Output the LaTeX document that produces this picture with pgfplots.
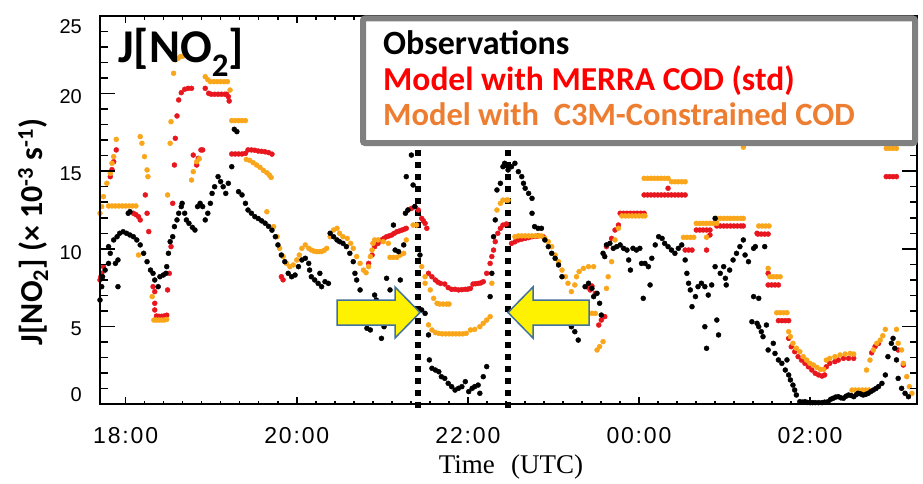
\documentclass[border=0pt]{standalone}
\usepackage{fontspec}
\setmainfont{Liberation Sans}
\newfontfamily\calfont{Carlito}
\newfontfamily\serfont{Liberation Serif}
\newfontfamily\tickfont[LetterSpace=8]{Liberation Sans}
\usepackage{pgfplots}
\pgfplotsset{compat=1.18}
\definecolor{obsred}{RGB}{232,22,30}
\definecolor{obsorange}{RGB}{250,166,26}
\definecolor{txtorange}{RGB}{237,125,49}
\definecolor{boxgray}{RGB}{128,128,128}
\definecolor{arrowblue}{RGB}{65,113,156}
\pgfplotsset{base/.style={at={(100pt,79pt)}, anchor=south west, scale only axis,
  width=817pt, height=388pt, xmin=17.70, xmax=27.25, ymin=0, ymax=25,
  axis line style={line width=1.5pt, black},
  every tick/.style={line width=1.5pt, black}}}
\begin{document}
\begin{tikzpicture}[x=1pt,y=1pt]
\useasboundingbox (0,0) rectangle (923,483);
\begin{axis}[base, clip=false,
  xtick={18,20,22,24,26}, xticklabels={18:00,20:00,22:00,00:00,02:00},
  minor x tick num=8,
  major tick length=7pt, minor tick length=3.5pt,
  xticklabel style={font=\tickfont\fontsize{23}{23}\selectfont, inner sep=0pt, yshift=-23pt},
  ytick=\empty,
]
% Model with MERRA COD (std)
\addplot[only marks, mark=*, mark size=2.5pt, color=obsred] coordinates {
(17.70,7.99)(17.71,8.20)(17.72,8.42)(17.74,8.85)(17.82,14.65)(17.84,15.10)(17.86,15.61)(17.89,16.37)
(18.09,12.29)(18.12,12.20)(18.15,12.07)(18.17,11.86)(18.23,13.47)(18.25,12.29)(18.27,11.11)
(18.32,7.56)(18.34,7.24)(18.34,6.49)(18.34,6.06)(18.36,5.67)(18.39,5.65)(18.42,5.65)(18.45,5.67)(18.48,5.72)
(18.49,7.35)(18.51,8.42)(18.53,10.14)(18.55,12.93)(18.57,15.40)(18.58,17.12)(18.60,18.56)(18.62,19.59)
(18.65,20.06)(18.69,20.28)(18.73,20.34)(18.77,20.34)(18.79,16.04)(18.83,15.40)(18.85,15.83)(18.88,16.37)(18.90,16.37)
(18.93,20.34)(18.97,20.02)(19.00,19.96)(19.04,19.96)(19.08,19.96)(19.12,19.96)(19.16,19.96)(19.18,19.96)(19.20,19.80)(19.21,19.52)
(19.24,16.11)(19.28,16.11)(19.32,16.11)(19.36,16.11)(19.40,16.15)(19.43,16.37)(19.47,16.37)(19.51,16.35)(19.55,16.30)
(19.59,16.28)(19.63,16.25)(19.67,16.20)(19.71,16.10)(19.82,8.20)(19.84,8.00)
(20.84,9.06)(20.88,9.60)(20.91,10.14)(20.95,10.35)(20.99,10.57)(21.02,10.68)(21.05,10.78)(21.08,10.83)(21.11,10.89)
(21.14,11.00)(21.17,11.10)(21.20,11.15)(21.23,11.21)(21.26,11.27)(21.28,11.32)(21.30,12.50)(21.34,12.60)(21.38,12.72)
(21.42,12.50)(21.46,11.96)(21.48,11.80)(21.50,11.64)(21.52,11.32)(21.54,8.42)(21.58,8.20)(21.62,7.99)(21.65,7.85)
(21.68,7.77)(21.73,7.73)(21.77,7.50)(21.81,7.39)(21.85,7.39)(21.89,7.35)(21.93,7.37)(21.97,7.39)(22.00,7.40)
(22.03,7.45)(22.06,7.73)(22.09,7.75)(22.12,7.77)(22.15,7.80)(22.18,7.88)(22.22,8.42)(22.26,9.06)(22.28,9.50)
(22.30,9.92)(22.32,10.46)(22.35,11.00)(22.38,11.32)(22.41,11.53)(22.45,11.60)
(22.51,10.35)(22.55,10.45)(22.59,10.57)(22.63,10.62)(22.67,10.67)(22.71,10.72)(22.75,10.78)(22.79,10.80)(22.82,10.83)(22.88,10.78)
(23.41,7.50)(23.43,7.35)(23.45,7.60)(23.49,7.13)(23.53,5.09)(23.56,5.41)(23.60,5.63)
(23.62,10.14)(23.68,10.67)(23.72,11.21)(23.76,11.53)
(23.78,12.29)(23.82,12.29)(23.86,12.29)(23.90,12.29)(23.94,12.29)(23.98,12.29)(24.02,12.29)(24.06,12.29)
(24.06,13.47)(24.10,13.47)(24.14,13.47)(24.18,13.47)(24.22,13.47)(24.26,13.47)(24.30,13.47)(24.34,13.47)(24.38,13.47)
(24.42,13.47)(24.46,13.47)(24.50,13.47)(24.54,13.47)(24.34,13.90)
(24.54,9.92)(24.58,9.92)(24.62,9.92)(24.79,9.92)
(24.67,11.21)(24.71,11.21)(24.75,11.21)(24.79,11.21)(24.83,11.21)(24.83,10.89)
(24.91,11.47)(24.95,11.47)(24.99,11.47)(25.03,11.47)(25.07,11.47)(25.11,11.47)(25.15,11.47)(25.19,11.47)(25.22,11.47)
(25.38,11.00)(25.39,10.95)(25.43,10.95)(25.47,10.95)(25.51,10.95)(25.51,8.42)
(25.51,7.67)(25.55,7.67)(25.59,7.67)(25.63,7.67)
(25.63,5.37)(25.67,5.37)(25.71,5.37)(25.75,5.37)
(25.75,4.23)(25.78,3.69)(25.82,3.37)(25.86,3.05)(25.90,2.83)(25.94,2.62)(25.98,2.40)(26.02,2.19)(26.06,1.98)
(26.10,1.87)(26.14,1.80)(26.17,1.87)(26.19,2.40)(26.23,2.62)(26.29,2.73)(26.33,2.83)(26.39,2.94)(26.45,2.94)(26.51,2.94)
(26.72,3.30)(26.76,3.70)(26.80,3.90)(27.03,3.48)(27.09,2.51)
(26.89,14.65)(26.93,14.65)(26.97,14.65)(27.01,14.65)
};
% Model with C3M-Constrained COD
\addplot[only marks, mark=*, mark size=2.5pt, color=obsorange] coordinates {
(17.70,12.29)(17.72,12.72)(17.74,13.36)(17.78,14.22)(17.82,14.86)(17.84,15.51)(17.86,15.94)(17.89,17.05)
(17.80,12.76)(17.84,12.76)(17.88,12.76)(17.92,12.76)(17.96,12.76)(18.00,12.76)(18.04,12.76)(18.08,12.76)(18.12,12.76)
(18.15,9.60)(18.17,17.23)(18.19,16.80)(18.22,15.94)(18.25,15.08)(18.26,14.65)
(18.31,6.92)(18.33,5.41)(18.36,5.41)(18.39,5.41)(18.42,5.41)(18.45,5.41)(18.48,5.45)
(18.49,13.47)(18.52,16.80)(18.53,18.19)(18.56,21.31)(18.58,22.17)(18.61,22.27)(18.64,22.38)(18.67,22.42)
(18.77,14.43)(18.79,14.97)(18.83,15.61)(18.86,15.80)
(18.93,21.09)(18.96,20.90)(18.99,20.77)(19.03,20.77)(19.07,20.77)(19.11,20.77)(19.15,20.77)(19.19,20.77)(19.22,20.23)
(19.24,18.26)(19.28,18.26)(19.32,18.26)(19.36,18.26)(19.40,18.26)
(19.41,15.76)(19.45,15.70)(19.49,15.55)(19.53,15.40)(19.57,15.25)(19.61,15.05)(19.65,14.90)(19.68,14.75)(19.70,14.60)
(19.65,12.39)
(19.73,11.43)(19.77,10.78)(19.80,10.03)(19.84,9.50)(19.88,9.06)(19.92,8.85)(19.96,8.96)(20.00,9.28)(20.03,9.60)
(20.06,10.03)(20.10,10.25)(20.14,10.03)(20.17,9.92)(20.20,9.85)(20.23,9.82)(20.26,9.82)(20.29,9.82)(20.32,9.90)
(20.35,10.03)(20.39,10.78)(20.43,11.21)(20.47,11.32)(20.50,11.00)(20.54,10.78)(20.59,10.67)(20.63,10.35)(20.66,10.03)
(20.70,9.50)(20.74,9.06)(20.78,8.63)(20.81,8.46)(20.84,8.85)(20.86,9.50)(20.88,9.92)(20.89,10.35)(20.91,10.57)
(20.95,10.57)(21.01,10.46)(21.07,10.35)
(21.09,9.45)(21.13,9.45)(21.17,9.45)(21.21,9.60)(21.25,9.71)(21.28,10.57)(21.36,11.53)(21.40,11.53)
(21.46,8.85)(21.50,8.20)(21.50,7.78)(21.54,5.10)
(21.56,7.35)(21.60,6.81)(21.64,6.49)(21.67,6.44)(21.71,6.44)(21.75,6.44)(21.78,6.44)
(21.58,4.77)(21.62,4.60)(21.66,4.55)(21.70,4.52)(21.74,4.52)(21.78,4.52)(21.82,4.52)(21.86,4.52)(21.90,4.52)(21.94,4.52)(21.98,4.55)
(22.03,4.77)(22.08,4.81)(22.14,4.98)(22.18,5.20)(22.22,5.41)(22.26,5.63)(22.28,7.78)
(22.34,12.50)(22.38,12.93)(22.41,13.14)(22.45,13.14)(22.47,13.14)
(22.55,10.78)(22.59,10.83)(22.63,10.83)(22.67,10.83)(22.71,10.83)(22.75,10.83)(22.79,10.83)(22.83,10.83)(22.86,10.83)
(22.90,10.67)(22.94,10.46)(22.98,10.14)(23.02,9.60)(23.06,9.17)(23.10,8.63)(23.14,8.20)(23.17,7.78)(23.21,7.24)
(23.25,7.67)(23.27,8.20)(23.30,8.53)(23.35,8.74)(23.41,8.85)(23.47,8.85)
(23.45,5.84)(23.49,5.84)(23.51,3.48)(23.54,3.70)(23.58,4.02)(23.62,7.45)(23.64,8.20)(23.68,9.17)(23.72,10.57)(23.76,11.32)
(23.80,12.12)(23.84,12.12)(23.88,12.12)(23.92,12.12)(23.96,12.12)(24.00,12.12)(24.04,12.12)(24.07,12.12)
(24.06,14.54)(24.10,14.54)(24.14,14.54)(24.18,14.54)(24.22,14.54)(24.26,14.54)(24.30,14.54)(24.34,14.54)
(24.38,14.32)(24.42,14.32)(24.46,14.32)(24.50,14.32)(24.54,14.32)
(24.52,10.74)(24.56,10.74)(24.60,10.74)(24.64,10.74)(24.79,10.74)
(24.67,11.64)(24.71,11.64)(24.75,11.64)(24.79,11.64)(24.83,11.64)(24.87,11.64)(24.91,11.64)
(24.91,11.96)(24.95,11.96)(24.99,11.96)(25.03,11.96)(25.07,11.96)(25.11,11.96)(25.15,11.96)(25.19,11.96)(25.22,11.96)
(25.22,16.55)
(25.40,11.47)(25.44,11.47)(25.48,11.47)(25.52,11.47)(25.51,8.74)
(25.53,8.20)(25.57,8.20)(25.61,8.20)(25.65,8.20)
(25.61,5.88)(25.65,5.88)(25.69,5.88)(25.73,5.88)
(25.75,4.66)(25.77,4.34)(25.80,3.91)(25.84,3.59)(25.88,3.37)(25.92,3.05)(25.96,2.83)(26.00,2.62)(26.04,2.51)
(26.08,2.36)(26.12,2.23)(26.16,2.23)(26.19,2.83)(26.23,2.94)(26.29,3.05)(26.35,3.16)(26.41,3.22)(26.47,3.26)(26.51,3.22)
(26.49,0.90)(26.53,0.90)(26.57,0.90)(26.61,0.90)(26.65,0.90)(26.69,0.90)
(26.66,2.19)(26.70,2.83)(26.74,3.48)(26.78,3.91)(26.82,4.12)(26.85,4.40)(26.88,4.81)(27.01,4.81)
(27.03,3.91)(27.07,3.48)(27.09,2.62)(27.13,1.76)(27.16,1.12)(27.19,0.69)
(26.89,16.47)(26.93,16.47)(26.97,16.47)(27.01,16.47)
};
% Observations
\addplot[only marks, mark=*, mark size=2.5pt, color=black] coordinates {
(17.70,6.70)(17.72,7.56)(17.73,8.20)(17.76,8.63)(17.80,9.06)(17.80,10.14)(17.82,9.71)(17.86,10.57)(17.88,9.06)
(17.90,10.78)(17.91,9.28)(17.91,7.56)(17.93,11.00)(17.97,11.10)(18.01,11.00)(18.03,12.29)(18.05,12.39)(18.05,10.89)
(18.09,10.78)(18.13,10.57)(18.17,10.25)(18.21,9.71)(18.25,9.17)(18.29,8.63)(18.32,8.42)(18.34,7.99)(18.38,7.56)
(18.40,8.20)(18.44,8.31)(18.47,8.42)(18.48,8.85)(18.50,9.71)(18.52,10.46)(18.55,10.78)(18.57,11.43)(18.60,11.86)
(18.62,12.29)(18.65,12.72)(18.66,12.93)(18.69,12.29)(18.71,11.86)(18.74,11.64)(18.78,11.38)(18.81,11.21)(18.84,12.72)
(18.87,12.93)(18.90,12.72)(18.93,11.86)(18.96,12.29)(18.99,12.93)(19.01,13.57)(19.04,14.00)(19.08,14.65)(19.11,14.33)
(19.14,14.00)(19.17,13.57)(19.20,14.22)(19.24,15.29)(19.27,17.70)(19.30,17.55)(19.32,13.68)(19.36,13.47)(19.40,12.93)
(19.43,12.50)(19.47,12.29)(19.51,12.07)(19.55,11.95)(19.59,11.80)(19.63,11.65)(19.67,11.45)(19.71,11.20)(19.75,10.78)
(19.78,10.25)(19.82,9.60)(19.86,9.17)(19.90,8.42)(19.94,8.20)(19.98,8.31)(20.02,8.85)(20.06,9.28)(20.10,9.39)
(20.14,9.06)(20.15,8.63)(20.17,8.20)(20.21,7.99)(20.25,7.77)(20.27,8.42)(20.29,7.56)(20.33,7.88)(20.37,7.77)
(20.39,11.00)(20.43,10.78)(20.47,10.57)(20.50,10.46)(20.54,10.35)(20.58,10.14)(20.62,9.71)(20.66,9.17)(20.68,8.42)
(20.70,7.99)(20.74,7.35)(20.76,6.49)(20.80,5.95)(20.82,4.88)(20.86,4.77)(20.91,7.02)(20.93,6.70)(20.97,5.52)
(20.99,4.23)(21.02,4.98)(21.05,8.10)(21.09,7.35)(21.13,11.53)(21.15,9.92)(21.19,9.82)(21.21,7.99)(21.25,10.25)
(21.27,12.29)(21.30,12.50)(21.28,14.65)(21.34,16.04)(21.36,14.11)(21.38,12.72)(21.44,9.60)(21.46,6.06)(21.50,5.84)
(21.54,4.45)(21.55,2.84)(21.58,2.30)(21.62,2.19)(21.66,2.08)(21.69,1.76)(21.73,1.65)(21.77,1.33)(21.81,1.12)
(21.85,0.90)(21.89,1.01)(21.93,1.12)(21.97,1.44)(22.01,0.80)(22.05,1.01)(22.08,1.12)(22.12,1.22)(22.14,0.69)
(22.18,1.76)(22.22,2.41)(22.26,6.92)(22.28,8.42)(22.30,10.78)(22.32,11.86)(22.34,13.79)(22.38,14.22)(22.41,15.29)
(22.43,15.51)(22.47,15.08)(22.51,15.29)(22.55,15.51)(22.59,14.97)(22.63,14.65)(22.65,14.22)(22.67,13.90)(22.71,13.57)
(22.75,13.25)(22.75,12.29)(22.78,11.43)(22.82,11.32)(22.86,11.32)(22.90,10.57)(22.94,10.14)(22.98,9.71)(23.02,9.39)
(23.06,8.96)(23.10,8.20)(23.14,6.49)(23.17,5.41)(23.21,4.98)(23.25,4.66)(23.29,4.12)(23.37,7.56)(23.41,7.78)
(23.45,7.45)(23.47,6.92)(23.51,7.13)(23.54,6.49)(23.56,5.73)(23.58,9.71)(23.60,9.50)(23.62,10.25)(23.66,10.35)
(23.70,10.03)(23.74,10.14)(23.78,10.25)(23.82,10.03)(23.86,9.92)(23.88,9.28)(23.90,8.63)(23.93,10.03)(23.97,9.92)
(24.01,10.03)(24.03,9.06)(24.05,6.81)(24.07,9.06)(24.11,8.85)(24.13,7.67)(24.15,9.39)(24.19,10.25)(24.23,10.78)
(24.27,10.67)(24.30,10.35)(24.34,10.14)(24.38,9.92)(24.42,9.71)(24.46,10.03)(24.50,10.25)(24.54,9.28)(24.56,8.42)
(24.58,7.78)(24.60,7.35)(24.62,6.27)(24.66,6.92)(24.69,7.56)(24.73,7.78)(24.77,7.56)(24.77,4.98)(24.79,3.59)
(24.81,7.02)(24.85,7.67)(24.89,8.85)(24.89,11.96)(24.91,5.41)(24.93,4.45)(24.95,8.42)(24.99,8.85)(25.01,8.10)
(25.02,7.67)(25.06,8.63)(25.10,9.28)(25.14,9.71)(25.18,10.14)(25.22,10.57)(25.24,9.60)(25.28,9.17)(25.34,10.03)
(25.34,6.92)(25.32,5.30)(25.38,5.20)(25.36,10.14)(25.47,10.14)(25.40,6.81)(25.40,4.98)(25.43,4.66)(25.45,4.34)
(25.49,5.09)(25.51,3.48)(25.57,3.91)(25.59,3.26)(25.63,2.84)(25.67,2.62)(25.71,2.19)(25.73,2.84)(25.75,1.87)
(25.77,1.55)(25.80,1.22)(25.82,0.90)(25.84,0.58)(25.88,0.15)(25.91,0.12)(25.94,0.15)(25.97,0.10)(26.00,0.09)
(26.03,0.09)(26.06,0.09)(26.10,0.09)(26.14,0.09)(26.17,0.12)(26.21,0.15)(26.24,0.30)(26.27,0.37)(26.30,0.45)
(26.33,0.47)(26.36,0.40)(26.39,0.37)(26.42,0.50)(26.45,0.58)(26.48,0.55)(26.51,0.47)(26.54,0.60)(26.56,0.69)
(26.59,0.65)(26.62,0.58)(26.65,0.62)(26.68,0.69)(26.71,0.80)(26.74,0.90)(26.77,1.00)(26.80,1.12)(26.84,1.33)
(26.88,1.87)(26.91,3.05)(26.95,3.91)(26.97,4.23)(26.99,3.59)(27.01,2.84)(27.03,1.65)(27.07,1.01)(27.11,0.69)(27.15,0.47)
};
\draw[black, line width=6pt, dash pattern=on 6pt off 6pt] (axis cs:21.417,-0.26) -- (axis cs:21.417,16.4);
\draw[black, line width=6pt, dash pattern=on 6pt off 6pt] (axis cs:22.469,-0.26) -- (axis cs:22.469,16.4);
\end{axis}
% y ticks (long), no labels
\begin{axis}[base,
  xtick=\empty, ytick={0,5,10,15,20,25}, minor y tick num=4,
  yticklabels={\relax,\relax,\relax,\relax,\relax,\relax},
  major tick length=15pt, minor tick length=7.5pt,
]
\end{axis}
% y tick labels only
\begin{axis}[base,
  xtick=\empty, major tick length=0pt, minor tick length=0pt,
  ytick={0.58,4.83,9.73,14.82,19.78,24.29}, yticklabels={0,5,10,15,20,25},
  yticklabel style={font=\fontsize{20}{20}\selectfont, inner sep=0pt, xshift=-18pt},
]
\end{axis}
% legend box
\draw[boxgray, line width=6pt, fill=white, rounded corners=2pt] (363,464.5) rectangle (915,340);
\node[anchor=base west, inner sep=0pt, font=\calfont\bfseries\fontsize{34}{34}\selectfont] at (383,428) {Observations};
\node[anchor=base west, inner sep=0pt, text=red, font=\calfont\bfseries\fontsize{33.5}{34}\selectfont] at (383,392) {Model with MERRA COD (std)};
\node[anchor=base west, inner sep=0pt, text=txtorange, font=\calfont\bfseries\fontsize{32.5}{34}\selectfont] at (383,358) {Model with\ \ C3M-Constrained COD};
% labels
\node[anchor=base west, inner sep=0pt, font=\calfont\bfseries\fontsize{47}{47}\selectfont] at (118,420) {J[NO\textsubscript{2}]};
\node[rotate=90, anchor=base, inner sep=0pt, font=\calfont\bfseries\fontsize{32}{32}\selectfont] at (42,251) {J[NO\textsubscript{2}] (× 10\textsuperscript{-3} s\textsuperscript{-1})};
\node[anchor=base, inner sep=0pt, font=\serfont\fontsize{27}{27}\selectfont] at (511,10) {Time\hspace{0.6em}(UTC)};
% arrows
\filldraw[fill=yellow, draw=arrowblue, line width=1.5pt, line join=miter] (337,158) -- (337,183) -- (395,183) -- (395,196) -- (420,170.5) -- (395,145) -- (395,158) -- cycle;
\filldraw[fill=yellow, draw=arrowblue, line width=1.5pt, line join=miter] (589,158) -- (589,183) -- (533,183) -- (533,196) -- (508,170.5) -- (533,145) -- (533,158) -- cycle;
\end{tikzpicture}
\end{document}
